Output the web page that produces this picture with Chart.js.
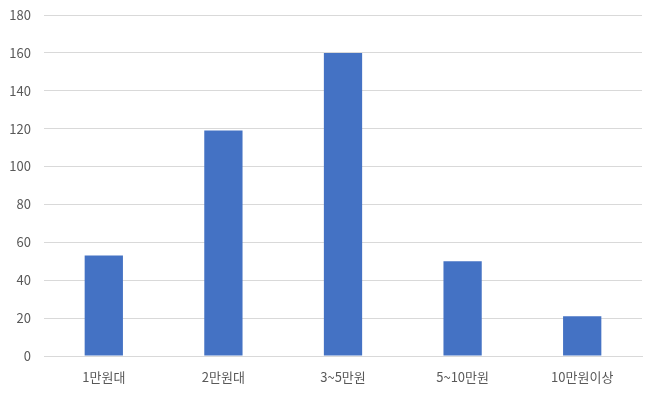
<!DOCTYPE html>
<html>
<head>
<meta charset="utf-8">
<script src="https://cdn.jsdelivr.net/npm/chart.js@4/dist/chart.umd.min.js"></script>
<style>
  html, body { margin: 0; padding: 0; background: #fff; }
  #wrap { width: 660px; height: 406px; }
</style>
</head>
<body>
<div id="wrap"><canvas id="chart"></canvas></div>
<script>
var categories = ["1만원대", "2만원대", "3~5만원", "5~10만원", "10만원이상"];
var counts = [53, 119, 160, 50, 21];
var yTicks = [0, 20, 40, 60, 80, 100, 120, 140, 160, 180];

var ctx = document.getElementById("chart").getContext('2d');

var barChart = new Chart(ctx, {
    type: 'bar',
    data: {
        labels: categories,
        datasets: [{
            data: counts,
            backgroundColor: '#4472C4',
            borderWidth: 0,
            barPercentage: 1,
            categoryPercentage: 0.32
        }]
    },
    options: {
        responsive: true,
        maintainAspectRatio: false,
        animation: false,
        layout: { padding: { top: 15, right: 18, bottom: 0, left: 0 } },
        plugins: { legend: { display: false }, tooltip: { enabled: false } },
        scales: {
            x: {
                grid: { display: false, drawTicks: false },
                border: { display: true, color: '#d9d9d9', width: 1 },
                ticks: {
                    color: '#595959',
                    padding: 13,
                    font: { family: "'Noto Sans CJK KR', sans-serif", size: 13 }
                },
                afterFit: function (scale) { scale.height = 50; }
            },
            y: {
                min: 0,
                max: 180,
                afterBuildTicks: function (scale) {
                    scale.ticks = yTicks.map(function (v) { return { value: v }; });
                },
                grid: { color: '#d9d9d9', drawTicks: false },
                border: { display: false },
                ticks: {
                    color: '#595959',
                    padding: 13,
                    font: { family: "'Noto Sans CJK KR', sans-serif", size: 13 }
                },
                afterFit: function (scale) {
                    scale.width = 44;
                    scale.paddingTop = 0;
                    scale.paddingBottom = 0;
                }
            }
        }
    }
});
</script>
</body>
</html>
